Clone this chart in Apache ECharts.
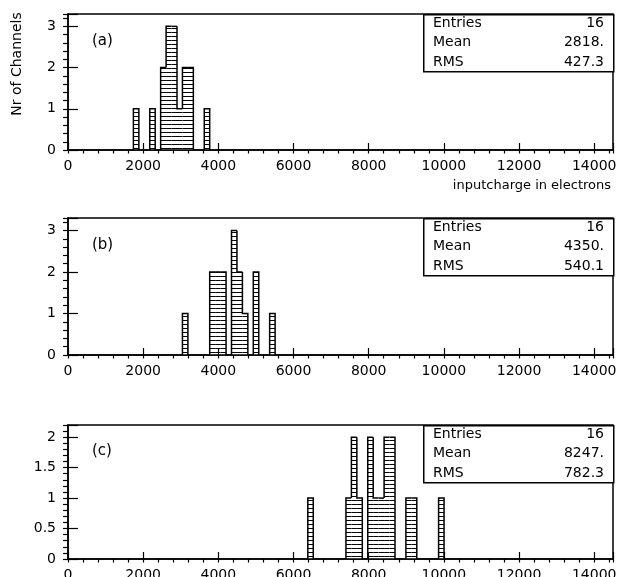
<!DOCTYPE html>
<html>
<head>
<meta charset="utf-8">
<script src="https://cdn.jsdelivr.net/npm/echarts@6/dist/echarts.min.js"></script>
<style>
  html, body { margin: 0; padding: 0; background: #fff; }
  #chart { width: 618px; height: 577px; }
</style>
</head>
<body>
<div id="chart"></div>
<script>
// histogram bins: 100 bins of 145 electrons from 0 to 14500
const binWidth = 145;
const xMax = 14500;

const lowA = [1740, 2175, 2465, 2610, 2755, 2900, 3045, 3190, 3625];
const countA = [1, 1, 2, 3, 3, 1, 2, 2, 1];

const lowB = [3045, 3770, 3915, 4060, 4350, 4495, 4640, 4930, 5365];
const countB = [1, 2, 2, 2, 3, 2, 1, 2, 1];

const lowC = [6380, 7395, 7540, 7685, 7975, 8120, 8265, 8410, 8555, 8990, 9135, 9860];
const countC = [1, 1, 2, 1, 2, 1, 1, 2, 2, 1, 1, 1];

const panelNames = ["(a)", "(b)", "(c)"];
const entries = ["16", "16", "16"];
const means = ["2818.", "4350.", "8247."];
const rmsValues = ["427.3", "540.1", "782.3"];

const yMax = [3.3, 3.3, 2.2];
const yStep = [1, 1, 0.5];
const yMinorStep = [0.2, 0.2, 0.1];

const FONT = "DejaVu Sans";

// horizontal hatching
const hatch = document.createElement("canvas");
hatch.width = 4;
hatch.height = 4;
const hctx = hatch.getContext("2d");
hctx.fillStyle = "#fff";
hctx.fillRect(0, 0, 4, 4);
hctx.fillStyle = "#000";
hctx.fillRect(0, 0, 4, 1);
const hatchFill = { image: hatch, repeat: "repeat" };

function binData(lows, counts) {
  return lows.map(function(lo, i) {
    const left = lows.indexOf(lo - binWidth);
    const right = lows.indexOf(lo + binWidth);
    return [lo, counts[i], left >= 0 ? counts[left] : 0, right >= 0 ? 1 : 0];
  });
}

function renderBin(params, api) {
  const lo = api.value(0);
  const n = api.value(1);
  const nLeft = api.value(2);
  const hasRight = api.value(3);
  const bl = api.coord([lo, 0]);
  const tr = api.coord([lo + binWidth, n]);
  const yl = api.coord([lo, nLeft])[1];
  const pts = [[bl[0], yl], [bl[0], tr[1]], [tr[0], tr[1]]];
  if (!hasRight) pts.push([tr[0], bl[1]]);
  return {
    type: "group",
    children: [
      {
        type: "rect",
        shape: { x: bl[0], y: tr[1], width: tr[0] - bl[0], height: bl[1] - tr[1] },
        style: { fill: hatchFill }
      },
      {
        type: "polyline",
        shape: { points: pts },
        style: { stroke: "#000", lineWidth: 1.5, fill: null }
      }
    ]
  };
}

const grids = [
  { left: 68, right: 5, top: 14, height: 136 },
  { left: 68, right: 5, top: 218, height: 137 },
  { left: 68, right: 5, top: 425, height: 134 }
];

const xAxes = [];
const yAxes = [];
const series = [];
const graphics = [];
const allData = [binData(lowA, countA), binData(lowB, countB), binData(lowC, countC)];

grids.forEach(function(g, i) {
  g.show = true;
  g.borderColor = "#000";
  g.borderWidth = 1.5;
  g.backgroundColor = "transparent";
  g.containLabel = false;
  g.outerBoundsMode = "none";

  // major x axis with labels
  xAxes.push({
    type: "value", gridIndex: i, min: 0, max: xMax, interval: 2000, z: 10,
    axisLine: { show: true, lineStyle: { color: "#000", width: 1.5 } },
    axisTick: { show: true, inside: true, length: 7, lineStyle: { color: "#000", width: 1.2 } },
    splitLine: { show: false },
    axisLabel: {
      color: "#000", fontFamily: FONT, fontSize: 14, margin: 9,
      formatter: function(v) { return v % 2000 === 0 ? String(v) : ""; }
    }
  });
  // minor x ticks
  xAxes.push({
    type: "value", gridIndex: i, min: 0, max: xMax, interval: 400, z: 10,
    axisLine: { show: false },
    axisTick: { show: true, inside: true, length: 3.5, lineStyle: { color: "#000", width: 1.2 } },
    splitLine: { show: false },
    axisLabel: { show: false }
  });
  // major y axis
  yAxes.push({
    type: "value", gridIndex: i, min: 0, max: yMax[i], interval: yStep[i], z: 10,
    axisLine: { show: true, lineStyle: { color: "#000", width: 1.5 } },
    axisTick: { show: true, inside: true, length: 10, lineStyle: { color: "#000", width: 1.2 } },
    splitLine: { show: false },
    axisLabel: {
      color: "#000", fontFamily: FONT, fontSize: 14, margin: 12,
      formatter: function(v) {
        const k = Math.round(v / yStep[i]);
        return Math.abs(k * yStep[i] - v) < 1e-6 ? String(v) : "";
      }
    }
  });
  // minor y ticks
  yAxes.push({
    type: "value", gridIndex: i, min: 0, max: yMax[i], interval: yMinorStep[i], z: 10,
    axisLine: { show: false },
    axisTick: { show: true, inside: true, length: 5, lineStyle: { color: "#000", width: 1.2 } },
    splitLine: { show: false },
    axisLabel: { show: false }
  });

  series.push({
    type: "custom",
    xAxisIndex: i * 2,
    yAxisIndex: i * 2,
    renderItem: renderBin,
    encode: { x: 0, y: 1 },
    data: allData[i],
    silent: true
  });

  // statistics box
  const top = g.top;
  graphics.push({
    type: "rect", left: 423, top: top, z: 20,
    shape: { width: 190, height: 57 },
    style: { fill: "#fff", stroke: "#000", lineWidth: 1.5 }
  });
  const rows = [["Entries", entries[i]], ["Mean", means[i]], ["RMS", rmsValues[i]]];
  rows.forEach(function(r, k) {
    graphics.push({
      type: "text", x: 433, y: top + 9 + k * 19.5, z: 21,
      style: { text: r[0], fill: "#000", font: "14px " + FONT, textVerticalAlign: "middle" }
    });
    graphics.push({
      type: "text", x: 604, y: top + 9 + k * 19.5, z: 21,
      style: { text: r[1], fill: "#000", font: "14px " + FONT, textAlign: "right", textVerticalAlign: "middle" }
    });
  });
  graphics.push({
    type: "text", x: 92, y: [41, 245, 451][i], z: 21,
    style: { text: panelNames[i], fill: "#000", font: "15px " + FONT, textVerticalAlign: "middle" }
  });
});

graphics.push({
  type: "text", x: 611, y: 186, z: 21,
  style: { text: "inputcharge in electrons", fill: "#000", font: "13px " + FONT, textAlign: "right", textVerticalAlign: "middle" }
});
graphics.push({
  type: "text", x: 17, y: 64, rotation: Math.PI / 2, z: 21,
  style: { text: "Nr of Channels", fill: "#000", font: "14px " + FONT, textAlign: "center", textVerticalAlign: "middle" }
});

const mychart = echarts.init(document.getElementById("chart"), null, { renderer: "canvas" });
mychart.setOption({
  animation: false,
  backgroundColor: "#fff",
  grid: grids,
  xAxis: xAxes,
  yAxis: yAxes,
  series: series,
  graphic: graphics
});
</script>
</body>
</html>
